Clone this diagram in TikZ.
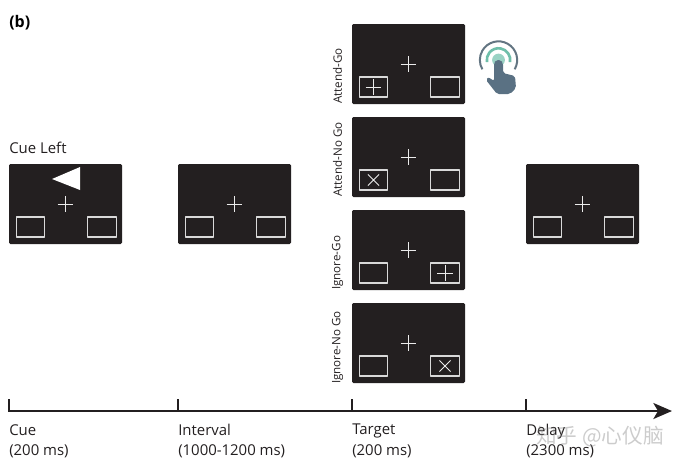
\documentclass[tikz,border=0pt]{standalone}
\usepackage{fontspec}
\setmainfont{Open Sans}
\newfontfamily\cjkwm{Noto Sans CJK SC}
\usetikzlibrary{arrows.meta,shapes.misc}
\definecolor{panelc}{HTML}{231F20}
\definecolor{handc}{HTML}{5A7183}
\definecolor{ringc}{HTML}{6FBFAA}
\tikzset{
	panel/.style={fill=panelc, rounded corners=1pt, inner sep=0pt, minimum width=84.75pt, minimum height=60pt},
	stimbox/.style={draw=white!85!black, line width=0.8pt, inner sep=0pt, minimum width=21.5pt, minimum height=15pt},
	fixmark/.style={draw=white!92!black, line width=0.7pt, cross out, rotate=45, inner sep=0pt, minimum size=7.6pt},
	nogomark/.style={draw=white!92!black, line width=0.7pt, cross out, inner sep=0pt, minimum size=7.6pt},
	timelabel/.style={anchor=north west, inner sep=0pt, align=left, font=\fontsize{11.2}{15.2}\selectfont, text=panelc},
	sidelabel/.style={rotate=90, anchor=west, inner sep=0pt, font=\fontsize{8.7}{10}\selectfont, text=panelc}
}
\begin{document}
\begin{tikzpicture}[x=0.75pt,y=-0.75pt,>={Stealth[length=14pt,width=12pt,inset=3.5pt]}, line join=round]
	\useasboundingbox (0,0) rectangle (681,465);
	\node[anchor=west, inner sep=0pt, font=\fontsize{12}{14}\selectfont\bfseries] (tag) at (9,23) {(b)};
	\foreach \pname/\px/\py in {cue/65.5/204,interval/234.5/204,attgo/408.5/64,attno/408.5/157,igngo/408.5/250,ignno/408.5/343,delay/582.5/204}
	{
		\node[panel] (\pname) at (\px,\py) {};
		\node[fixmark] (\pname fix) at (\px,\py) {};
		\node[stimbox] (\pname L) at (\px-35,\py+23) {};
		\node[stimbox] (\pname R) at (\px+36.5,\py+23) {};
	}
	\node[fixmark] (attgomark) at (attgoL) {};
	\node[nogomark] (attnomark) at (attnoL) {};
	\node[fixmark] (igngomark) at (igngoR) {};
	\node[nogomark] (ignnomark) at (ignnoR) {};
	\fill[white] (52,179)--(80,167)--(80,190)--cycle;
	\node[anchor=south west, inner sep=0pt, font=\fontsize{11.2}{12}\selectfont, text=panelc] (cuehead) at (9,154) {Cue Left};
	\node[sidelabel] (attgotext) at (337.5,104) {Attend-Go};
	\node[sidelabel] (attnotext) at (337.5,197) {Attend-No Go};
	\node[sidelabel] (igngotext) at (337.5,290) {Ignore-Go};
	\node[sidelabel] (ignnotext) at (337.5,384) {Ignore-No Go};
	% touch icon
	\coordinate (touch) at (498.5,60);
	\draw[handc!75!gray, line width=1.5pt] (touch)++(-30:14pt) arc[start angle=-30, end angle=210, radius=14pt];
	\draw[ringc, line width=2pt] (touch)++(-10:8.8pt) arc[start angle=-10, end angle=190, radius=8.8pt];
	\fill[ringc!70!white] (touch) circle[radius=4.8pt];
	\fill[handc, rounded corners=1.5pt] (494,63) -- (496,60) -- (501,60) -- (503,63) -- (503,73) -- (515,76) -- (516,88) -- (510,94) -- (497,94) -- (486,80) -- (488,77) -- (494,81) -- cycle;
	% time line
	\coordinate (start) at (9,411);
	\coordinate (finish) at (672,411);
	\draw[->, panelc, line width=1.5pt] (start)--(finish);
	\foreach \tname/\tx/\ttext in {cue/9/{Cue\\(200 ms)},interval/178/{Interval\\(1000-1200 ms)},target/352/{Target\\(200 ms)},delay/526/{Delay\\(2300 ms)}}
	{
		\coordinate (\tname tick) at (\tx,399);
		\coordinate (\tname base) at (\tx,411.7);
		\draw[panelc, line width=1.5pt] (\tname tick)--(\tname base);
		\node[timelabel] (\tname text) at (\tx,424) {\ttext};
	}
	\node[text=gray, opacity=0.4, inner sep=0pt, anchor=west, font=\cjkwm\fontsize{15.5}{17}\selectfont] (mark) at (536,437) {知乎 @心仪脑};
\end{tikzpicture}
\end{document}
